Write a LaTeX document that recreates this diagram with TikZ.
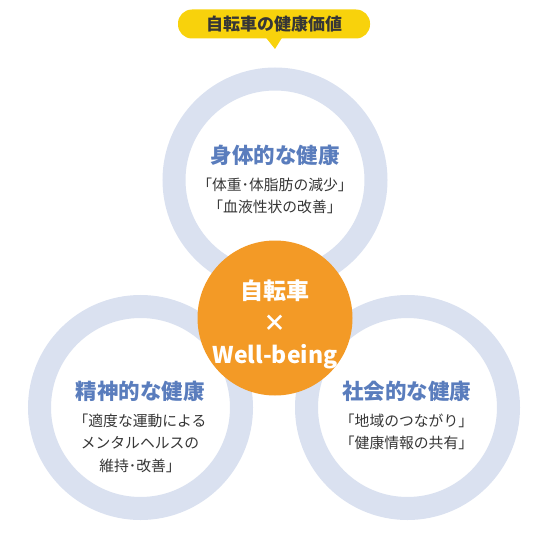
\documentclass[tikz,border=0pt]{standalone}
\usepackage{fontspec}
\setmainfont{Noto Sans CJK JP}
\usepackage{tikz}
\usetikzlibrary{positioning,calc}
\definecolor{ringblue}{HTML}{DAE1F0}
\definecolor{headblue}{HTML}{5A7DBD}
\definecolor{bodygray}{HTML}{363636}
\definecolor{coreorange}{HTML}{F39A26}
\definecolor{tagyellow}{HTML}{F8D20C}

\begin{document}
\begin{tikzpicture}[x=1pt,y=-1pt,
  ring/.style={circle,draw=ringblue,line width=23pt,fill=white,minimum size=202pt,inner sep=0pt},
  hd/.style={font=\bfseries\fontsize{21.5}{24}\selectfont,text=headblue,inner sep=1pt},
  bd/.style={font=\fontsize{14.8}{22.5}\selectfont,text=bodygray,align=center,inner sep=1pt},
  core/.style={circle,fill=coreorange,minimum size=155pt,inner sep=0pt}]
\useasboundingbox (0,0) rectangle (554,543);
% ---------- rings ----------
\node[ring] (body) at (275,180) {};
\node[ring] (mind) at (140.5,407.5) {};
\node[ring] (soc) at (407.5,407.5) {};
\node[core] (cyc) at (275,318) {};
% ---------- badge ----------
\node[fill=tagyellow,rounded corners=14pt,minimum width=192pt,minimum height=29pt,
  font=\bfseries\fontsize{17}{20}\selectfont,text=bodygray] (tag) at (274,24) {自転車の健康価値};
\coordinate (tip) at (275,49);
\fill[tagyellow] ($(tag.south)+(-8,-1)$) -- (tip) -- ($(tag.south)+(8,-1)$) -- cycle;
% ---------- top ----------
\node[hd] (bodyH) at (275,155) {身体的な健康};
\node[bd,below=10pt of bodyH] (bodyB) {「体重･体脂肪の減少」\\「血液性状の改善」};
% ---------- centre ----------
\node[font=\bfseries\fontsize{23}{32}\selectfont,text=white,align=center] (cycT) at ($(cyc.center)+(0,6)$) {自転車\\×\\Well-being};
% ---------- left ----------
\node[hd] (mindH) at (140,391) {精神的な健康};
\node[bd,below=10pt of mindH] (mindB) {「適度な運動による\\メンタルヘルスの\\維持･改善」};
% ---------- right ----------
\node[hd] (socH) at (406.5,391) {社会的な健康};
\node[bd,below=10pt of socH] (socB) {「地域のつながり」\\「健康情報の共有」};
\end{tikzpicture}
\end{document}
